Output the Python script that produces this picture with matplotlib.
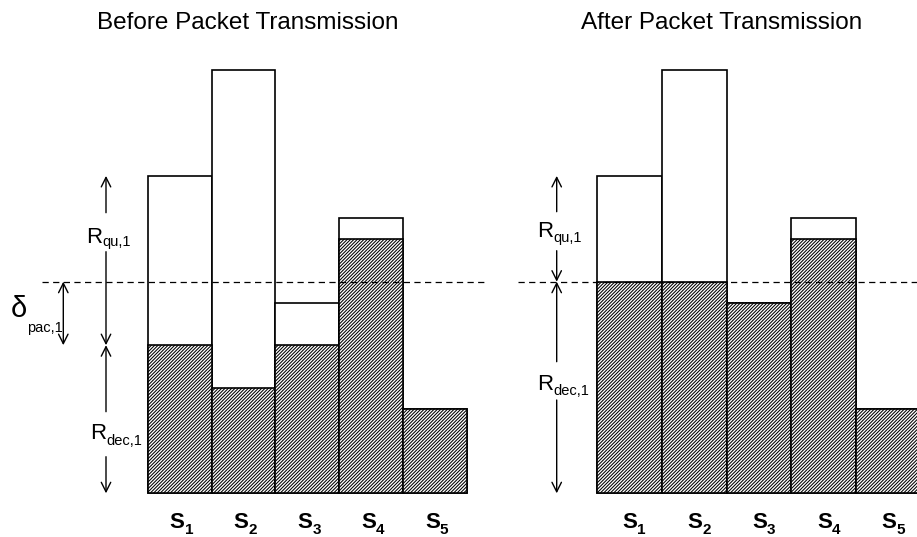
import matplotlib
matplotlib.use("Agg")
import matplotlib.pyplot as plt

plt.rcParams["font.family"] = ["Liberation Sans", "DejaVu Sans"]
plt.rcParams["hatch.linewidth"] = 0.75

# ---- data -------------------------------------------------------------
stream_ids = ["1", "2", "3", "4", "5"]
received_total = [15, 20, 9, 13, 4]      # total received per stream
decoded_before = [7, 5, 7, 12, 4]        # decoded part before transmission
decoded_after = [10, 10, 9, 12, 4]       # decoded part after transmission
threshold = 10                           # common decoding level
titles = ["Before Packet Transmission", "After Packet Transmission"]

# ---- layout (pixels) ---------------------------------------------------
W, H = 917, 537
Y0, SY = 493.3, 21.16                    # baseline pixel row, pixels per unit

fig = plt.figure(figsize=(W / 100, H / 100), dpi=100)


def make_panel(x0, sx):
    ax = fig.add_axes([0, 0, 1, 1])
    ax.set_xlim(-x0 / sx, (W - x0) / sx)
    ax.set_ylim(-(H - Y0) / SY, Y0 / SY)
    ax.axis("off")
    ax.patch.set_visible(False)
    xd = lambda px: (px - x0) / sx
    return ax, xd


def yd(py):
    return (Y0 - py) / SY


def varrow(ax, x, y_from, y_to, style="->"):
    ax.annotate("", xy=(x, y_to), xytext=(x, y_from),
                arrowprops=dict(arrowstyle=style, lw=1.0, color="black",
                                shrinkA=0, shrinkB=0, mutation_scale=17),
                annotation_clip=False)


def sublabel(ax, xd, x_split, base_main, base_sub, main, sub,
             main_size=16, sub_size=10.5, weight="normal"):
    ax.text(xd(x_split), yd(base_main), main, ha="right", va="baseline",
            fontsize=main_size, fontweight=weight, clip_on=False)
    ax.text(xd(x_split), yd(base_sub), sub, ha="left", va="baseline",
            fontsize=sub_size, fontweight=weight, clip_on=False)


panels = [
    dict(x0=147.7, sx=63.8, dec=decoded_before, title_x=248, dash=(42, 487),
         tick_off=5),
    dict(x0=597.0, sx=64.8, dec=decoded_after, title_x=721.5, dash=(518, 930),
         tick_off=8),
]

idx = list(range(len(stream_ids)))

for k, p in enumerate(panels):
    ax, xd = make_panel(p["x0"], p["sx"])
    ax.bar(idx, received_total, width=1, align="edge", color="white",
           edgecolor="black", linewidth=1.2, zorder=2)
    ax.bar(idx, p["dec"], width=1, align="edge", color="white",
           edgecolor="black", linewidth=1.2, hatch="/" * 10, zorder=3)
    ax.plot([xd(p["dash"][0]), xd(p["dash"][1])], [threshold, threshold],
            color="black", lw=0.9, ls=(0, (5, 3.5)), zorder=5, clip_on=False)

    ax.text(xd(p["title_x"]), yd(29), titles[k], ha="center", va="baseline",
            fontsize=17.5, clip_on=False)

    for i, s in enumerate(stream_ids):
        cx = p["x0"] + p["sx"] * (i + 0.5) + p["tick_off"]
        sublabel(ax, xd, cx, 527.5, 534, "S", s, main_size=16,
                 sub_size=11, weight="bold")

    if k == 0:
        ax_x = xd(106)
        varrow(ax, ax_x, yd(212.7), received_total[0])
        varrow(ax, ax_x, yd(251.7), decoded_before[0])
        varrow(ax, ax_x, yd(411.7), decoded_before[0])
        varrow(ax, ax_x, yd(456.7), 0)
        sublabel(ax, xd, 102, 243, 246, "R", "qu,1")
        sublabel(ax, xd, 106, 439, 445, "R", "dec,1")
        varrow(ax, xd(63.3), decoded_before[0], threshold, style="<->")
        sublabel(ax, xd, 27, 317, 332, "\u03b4", "pac,1", main_size=21,
                 sub_size=10.5)
    else:
        ax_x = xd(556.7)
        varrow(ax, ax_x, yd(211.7), received_total[0])
        varrow(ax, ax_x, yd(250.7), threshold)
        varrow(ax, ax_x, yd(361.7), threshold)
        varrow(ax, ax_x, yd(400), 0)
        sublabel(ax, xd, 553, 237, 242, "R", "qu,1")
        sublabel(ax, xd, 553, 390, 395, "R", "dec,1")

fig.savefig("out.png", dpi=100)
